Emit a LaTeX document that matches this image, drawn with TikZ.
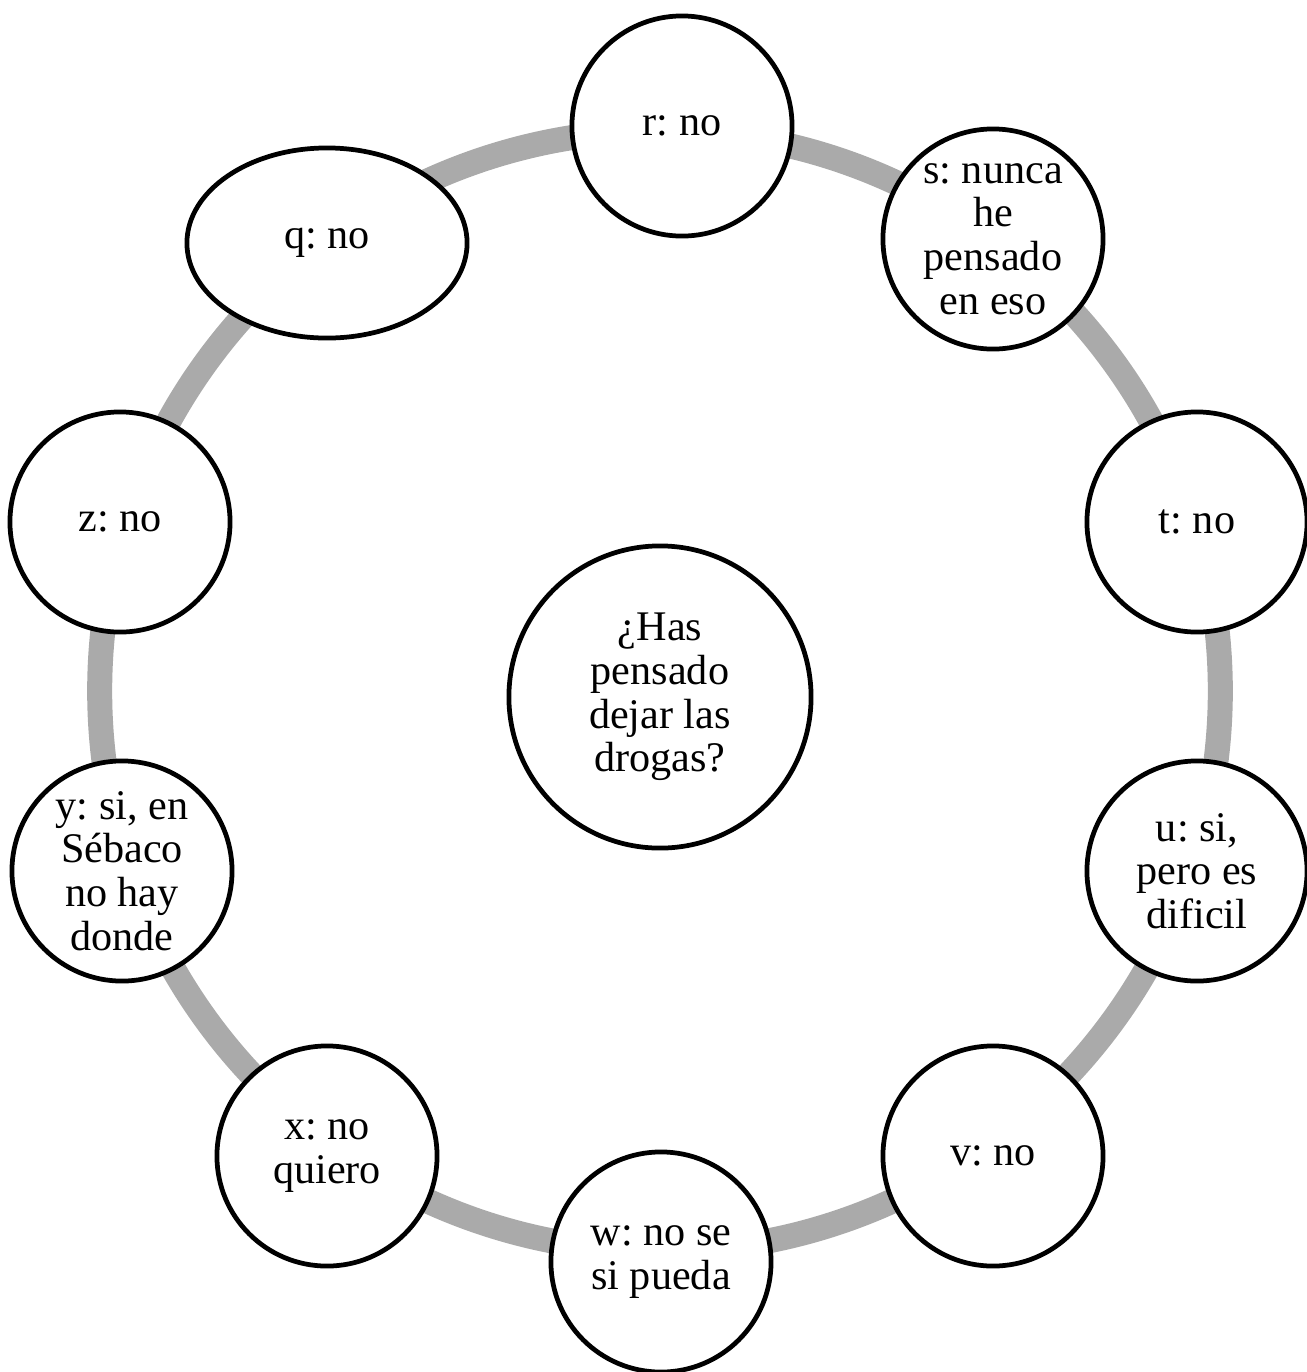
\documentclass[tikz,border=0pt]{standalone}
\usepackage{fontspec}
\setmainfont{Liberation Serif}
\usepackage{tikz}
\usetikzlibrary{shapes.geometric}
\definecolor{RingGray}{RGB}{170,170,170}
\frenchspacing

\begin{document}
\begin{tikzpicture}[
  x=0.01cm,y=-0.01cm,
  ans/.style={circle,draw=black,line width=1.35pt,fill=white,
              minimum size=2.2cm,inner sep=0pt,align=center,
              font=\fontsize{12}{12.4}\selectfont},
  ansoval/.style={ellipse,draw=black,line width=1.35pt,fill=white,
              minimum width=2.8cm,minimum height=1.9cm,inner sep=0pt,
              align=center,font=\fontsize{12}{12.4}\selectfont},
  ques/.style={ans,minimum size=3.02cm},
  ring/.style={line width=0.25cm,RingGray},
]
\useasboundingbox (0,0) rectangle (1307,1372);
\node[ques] (preg) at (660,697)
  {¿Has\\pensado\\dejar las\\drogas?};
% ring behind the answers
\draw[ring] (660,691) circle [radius=5.6cm];
\node[ansoval] (q) at (327,243) {q: no};
\node[ans] (r) at (682,126) {r: no};
\node[ans] (s) at (993,239) {s: nunca\\he\\pensado\\en eso};
\node[ans] (t) at (1197,522) {t: no};
\node[ans] (u) at (1197,871) {u: si,\\pero es\\dificil};
\node[ans] (v) at (993,1156) {v: no};
\node[ans] (w) at (661,1262) {w: no se\\si pueda};
\node[ans] (x) at (327,1156) {x: no\\quiero};
\node[ans] (y) at (122,871) {y: si, en\\Sébaco\\no hay\\donde};
\node[ans] (z) at (120,522) {z: no};
\end{tikzpicture}
\end{document}
